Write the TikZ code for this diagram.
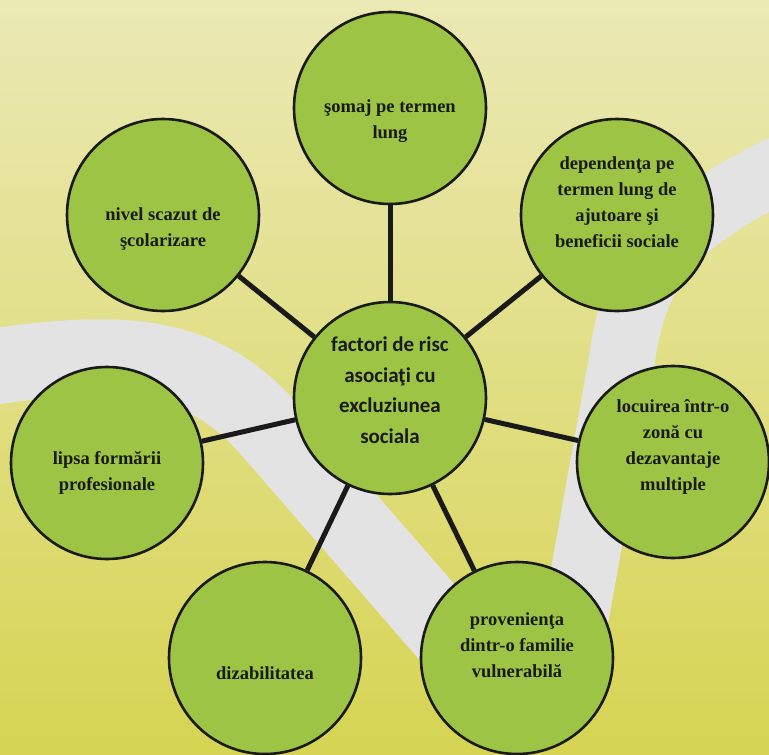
\documentclass[tikz,border=0pt]{standalone}
\usepackage{fontspec}
\setmainfont{Liberation Serif}
\newfontfamily\hubfont{Carlito}
\definecolor{bgtop}{HTML}{EBE9B5}
\definecolor{bgmid}{HTML}{E2DF8D}
\definecolor{bgbot}{HTML}{D6D452}
\definecolor{leaf}{HTML}{9DC444}
\definecolor{road}{HTML}{E3E3E3}
\definecolor{ink}{HTML}{1A1A1A}

\begin{document}
\begin{tikzpicture}[x=1pt,y=-1pt,
  bubble/.style={circle,draw=ink,line width=2.6pt,fill=leaf,minimum size=192pt,inner sep=0pt},
  outtxt/.style={align=center,text=ink,font=\bfseries\fontsize{18.5}{26}\selectfont},
  hubtxt/.style={align=center,text=ink,font=\hubfont\bfseries\fontsize{21}{30.5}\selectfont},
  spoke/.style={draw=ink,line width=5pt},
  band/.style={draw=road,line width=76pt}]
  \useasboundingbox (0,0) rectangle (769,755);
  \shade[top color=bgtop,middle color=bgmid,bottom color=bgbot] (0,0) rectangle (769,755);
  \begin{scope}
    \clip (0,0) rectangle (769,755);
    \draw[band] (-40,372) .. controls (120,345) and (200,350) .. (270,430) -- (470,660);
    \draw[band,line width=66pt] (800,160) .. controls (680,215) and (635,260) .. (622,360) -- (568,660);
  \end{scope}

  \node[bubble] (hub) at (390,398) {};
  \node[bubble] (somaj) at (390,108) {};
  \node[bubble] (nivel) at (163,215) {};
  \node[bubble] (dep) at (617,215) {};
  \node[bubble] (lipsa) at (107,463) {};
  \node[bubble] (loc) at (673,462) {};
  \node[bubble] (diz) at (265,658) {};
  \node[bubble] (prov) at (517,658) {};

  \foreach \n in {somaj,nivel,dep,lipsa,loc,diz,prov}
    \draw[spoke] (hub) -- (\n);

  \node[hubtxt] (hubT) at ([yshift=8pt]hub) {factori de risc\\asociaţi cu\\excluziunea\\sociala};
  \node[outtxt] (somajT) at ([yshift=-13pt]somaj) {şomaj pe termen\\lung};
  \node[outtxt] (nivelT) at ([yshift=-14pt]nivel) {nivel scazut de\\şcolarizare};
  \node[outtxt] (depT) at ([yshift=13pt]dep) {dependenţa pe\\termen lung de\\ajutoare şi\\beneficii sociale};
  \node[outtxt] (lipsaT) at ([yshift=-10pt]lipsa) {lipsa formării\\profesionale};
  \node[outtxt] (locT) at ([yshift=15pt]loc) {locuirea într-o\\zonă cu\\dezavantaje\\multiple};
  \node[outtxt] (dizT) at ([yshift=-15pt]diz) {dizabilitatea};
  \node[outtxt] (provT) at ([yshift=13pt]prov) {provenienţa\\dintr-o familie\\vulnerabilă};
\end{tikzpicture}
\end{document}
